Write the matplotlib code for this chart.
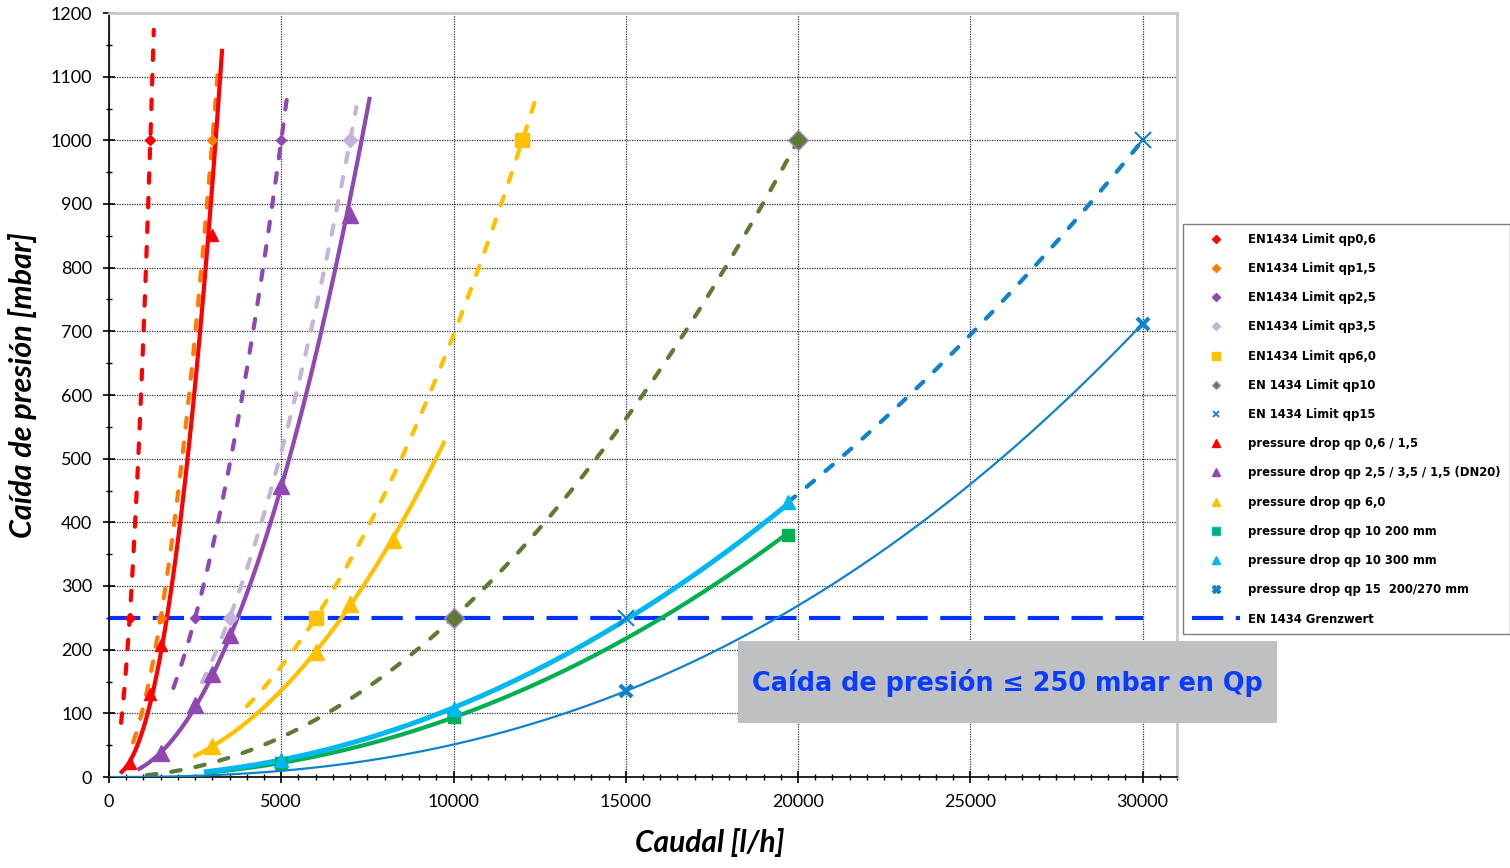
import numpy as np
import matplotlib
matplotlib.use("Agg")
import matplotlib.pyplot as plt
from matplotlib.lines import Line2D
from matplotlib.patches import Rectangle

# ---------------- data ----------------
# EN1434 limit points (flow l/h, pressure drop mbar)
lim06_q = [600, 1200];    lim06_dp = [250, 1000]
lim15_q = [1500, 3000];   lim15_dp = [250, 1000]
lim25_q = [2500, 5000];   lim25_dp = [250, 1000]
lim35_q = [3500, 7000];   lim35_dp = [250, 1000]
lim60_q = [6000, 12000];  lim60_dp = [250, 1000]
lim10_q = [10000, 20000]; lim10_dp = [250, 1000]
lim150_q = [15000, 30000]; lim150_dp = [250, 1000]

# measured pressure drops
pd06_q = [600, 1200, 1500, 3000];             pd06_dp = [22, 130, 208, 852]
pd25_q = [1500, 2500, 3000, 3500, 5000, 7000]; pd25_dp = [37, 113, 162, 223, 457, 883]
pd60_q = [3000, 6000, 7000, 8250];            pd60_dp = [48, 197, 272, 373]
pd10a_q = [5000, 10000, 19700];               pd10a_dp = [22, 95, 380]
pd10b_q = [5000, 10000, 19700];               pd10b_dp = [27, 107, 432]
pd15_q = [15000, 30000];                      pd15_dp = [135, 712]

grenz_q = [0, 30000]; grenz_dp = [250, 250]

# trendline extents (flow range drawn)
rng_lim06 = (350, 1300)
rng_lim15 = (700, 3180)
rng_lim25 = (1870, 5200)
rng_lim35 = (2700, 7180)
rng_lim60 = (4000, 12400)
rng_lim10 = (1100, 20000)
rng_lim150 = (19700, 30000)
rng_pd06 = (370, 3280)
rng_pd25 = (880, 7560)
rng_pd60 = (2500, 9720)
rng_pd10a = (2850, 19700)
rng_pd10b = (2830, 19700)
rng_pd15 = (0, 30000)

labels = ["EN1434 Limit qp0,6", "EN1434 Limit qp1,5", "EN1434 Limit qp2,5",
          "EN1434 Limit qp3,5", "EN1434 Limit qp6,0", "EN 1434 Limit qp10",
          "EN 1434 Limit qp15", "pressure drop qp 0,6 / 1,5",
          "pressure drop qp 2,5 / 3,5 / 1,5 (DN20)", "pressure drop qp 6,0",
          "pressure drop qp 10 200 mm", "pressure drop qp 10 300 mm",
          "pressure drop qp 15  200/270 mm", "EN 1434 Grenzwert"]

# colours
RED = "#ff0000"; ORANGE = "#ff7c00"; PURPLE = "#8f47b3"; LPURPLE = "#c6b3d8"
YELLOW = "#ffc000"; OLIVE = "#5e7b33"; OLIVE_EDGE = "#a58ad0"; BLUE15 = "#0e82cf"
GREEN = "#00b050"; CYAN = "#00b8f0"; GRENZ = "#0033ff"


def power_fit(q, dp):
    b, ln_a = np.polyfit(np.log(q), np.log(dp), 1)
    return np.exp(ln_a), b


def trend(ax, q, dp, rng, **kw):
    a, b = power_fit(q, dp)
    x = np.linspace(rng[0], rng[1], 300)
    ax.plot(x, a * np.power(x, b), **kw)


fig = plt.figure(figsize=(15.1, 8.68), dpi=100)
ax = fig.add_axes([109 / 1510, 91 / 868, 1068 / 1510, 764 / 868])

dash_kw = dict(linestyle=(0, (2.3, 3.6)), lw=3, dash_capstyle="round", zorder=2)

# dashed EN1434 limit trend curves
trend(ax, lim06_q, lim06_dp, rng_lim06, color=RED, **dash_kw)
trend(ax, lim15_q, lim15_dp, rng_lim15, color=ORANGE, **dash_kw)
trend(ax, lim25_q, lim25_dp, rng_lim25, color=PURPLE, **dash_kw)
trend(ax, lim35_q, lim35_dp, rng_lim35, color=LPURPLE, **dash_kw)
trend(ax, lim60_q, lim60_dp, rng_lim60, color=YELLOW, **dash_kw)
trend(ax, lim10_q, lim10_dp, rng_lim10, color=OLIVE, **dash_kw)
trend(ax, lim150_q, lim150_dp, rng_lim150, color=BLUE15, **dash_kw)

# Grenzwert line
ax.plot(grenz_q, grenz_dp, color=GRENZ, lw=3, linestyle=(0, (7.5, 3)),
        dash_capstyle="butt", zorder=2.5)

# solid pressure drop trend curves
trend(ax, pd15_q, pd15_dp, rng_pd15, color=BLUE15, lw=1.6, zorder=3)
trend(ax, pd10a_q, pd10a_dp, rng_pd10a, color=GREEN, lw=3, zorder=3)
trend(ax, pd10b_q, pd10b_dp, rng_pd10b, color=CYAN, lw=3.6, zorder=3.1)
trend(ax, pd60_q, pd60_dp, rng_pd60, color=YELLOW, lw=3, zorder=3)
trend(ax, pd25_q, pd25_dp, rng_pd25, color=PURPLE, lw=3, zorder=3)
trend(ax, pd06_q, pd06_dp, rng_pd06, color=RED, lw=3, zorder=3)

# markers
mk = dict(linestyle="none", zorder=4)
ax.plot(lim06_q, lim06_dp, marker="D", ms=5, color=RED, **mk)
ax.plot(lim15_q, lim15_dp, marker="D", ms=5, color=ORANGE, **mk)
ax.plot(lim25_q, lim25_dp, marker="D", ms=5, color=PURPLE, **mk)
ax.plot(lim35_q, lim35_dp, marker="D", ms=7.5, color=LPURPLE, **mk)
ax.plot(lim60_q, lim60_dp, marker="s", ms=10, color=YELLOW, **mk)
ax.plot(lim10_q, lim10_dp, marker="D", ms=10, markerfacecolor=OLIVE,
        markeredgecolor=OLIVE_EDGE, markeredgewidth=1, **mk)
ax.plot(lim150_q, lim150_dp, marker="x", ms=11, color=BLUE15, markeredgewidth=1.5, **mk)
ax.plot(pd06_q, pd06_dp, marker="^", ms=9, color=RED, **mk)
ax.plot(pd25_q, pd25_dp, marker="^", ms=11, color=PURPLE, **mk)
ax.plot(pd60_q, pd60_dp, marker="^", ms=11, color=YELLOW, **mk)
ax.plot(pd10a_q, pd10a_dp, marker="s", ms=9, color=GREEN, **mk)
ax.plot(pd10b_q, pd10b_dp, marker="^", ms=10, color=CYAN, **mk)
ax.plot(pd15_q, pd15_dp, marker="x", ms=9, color=BLUE15, markeredgewidth=3, **mk)

# axes formatting
ax.set_xlim(0, 31000)
ax.set_ylim(0, 1200)
ax.set_xticks(np.arange(0, 30001, 5000))
ax.set_xticks(np.arange(0, 31001, 500), minor=True)
ax.set_yticks(np.arange(0, 1201, 100))
ax.set_yticks(np.arange(0, 1201, 50), minor=True)
ax.grid(True, which="major", color="#303030", linestyle=(0, (1, 1)), lw=0.9)
ax.set_axisbelow(True)
for s in ("top", "right"):
    ax.spines[s].set_color("#c8c8c8")
    ax.spines[s].set_linewidth(2)
for s in ("left", "bottom"):
    ax.spines[s].set_color("black")
    ax.spines[s].set_linewidth(1.2)
ax.tick_params(which="major", direction="inout", length=8, width=1.2,
               labelsize=13, pad=8)
ax.tick_params(which="minor", direction="inout", length=5, width=1.0)
for lab in ax.get_xticklabels() + ax.get_yticklabels():
    lab.set_family(["Lato", "DejaVu Sans"])

ax.set_xlabel("Caudal [l/h]", fontsize=21.5, fontweight="bold", style="italic",
              family=["Lato", "DejaVu Sans"])
ax.set_ylabel("Caída de presión [mbar]", fontsize=22, fontweight="bold",
              style="italic", family=["Lato", "DejaVu Sans"])
ax.xaxis.set_label_coords((710 - 109) / 1068, (777 - 828) / 764)
ax.yaxis.set_label_coords((37 - 109) / 1068, (777 - 385) / 764)

# legend
handles = [
    Line2D([], [], linestyle="none", marker="D", ms=4, color=RED),
    Line2D([], [], linestyle="none", marker="D", ms=4, color=ORANGE),
    Line2D([], [], linestyle="none", marker="D", ms=4, color=PURPLE),
    Line2D([], [], linestyle="none", marker="D", ms=4, color=LPURPLE),
    Line2D([], [], linestyle="none", marker="s", ms=6, color=YELLOW),
    Line2D([], [], linestyle="none", marker="D", ms=4, markerfacecolor="#6f7050",
           markeredgecolor=OLIVE_EDGE),
    Line2D([], [], linestyle="none", marker="x", ms=5, color=BLUE15, markeredgewidth=1.3),
    Line2D([], [], linestyle="none", marker="^", ms=6, color=RED),
    Line2D([], [], linestyle="none", marker="^", ms=6, color=PURPLE),
    Line2D([], [], linestyle="none", marker="^", ms=6, color=YELLOW),
    Line2D([], [], linestyle="none", marker="s", ms=6, markerfacecolor=GREEN,
           markeredgecolor=CYAN),
    Line2D([], [], linestyle="none", marker="^", ms=6, color=CYAN),
    Line2D([], [], linestyle="none", marker="X", ms=6, color=BLUE15),
    Line2D([], [], color=GRENZ, lw=3, linestyle=(0, (7.5, 3))),
]
leg = fig.legend(handles, labels, loc="upper left",
                 bbox_to_anchor=(1183 / 1510, 1 - 224 / 868),
                 borderaxespad=0, frameon=True, fancybox=False,
                 edgecolor="#7f7f7f", framealpha=1,
                 prop=dict(family="DejaVu Sans", weight="bold", size=8.4),
                 handlelength=4.1, handletextpad=0.75, borderpad=0.75,
                 labelspacing=1.39)
leg.get_frame().set_linewidth(1.0)

# annotation box
fig.patches.append(Rectangle((738 / 1510, 1 - 723 / 868), (1277 - 738) / 1510,
                             (723 - 641) / 868, transform=fig.transFigure,
                             facecolor="#bfc0c2", edgecolor="none", zorder=5))
fig.text((738 + 1277) / 2 / 1510, 1 - 683 / 868,
         "Caída de presión ≤ 250 mbar en Qp", ha="center", va="center",
         fontsize=18.4, fontweight="bold", color="#0a3cff",
         family=["DejaVu Sans"], zorder=6)

fig.savefig("out.png", dpi=100)
